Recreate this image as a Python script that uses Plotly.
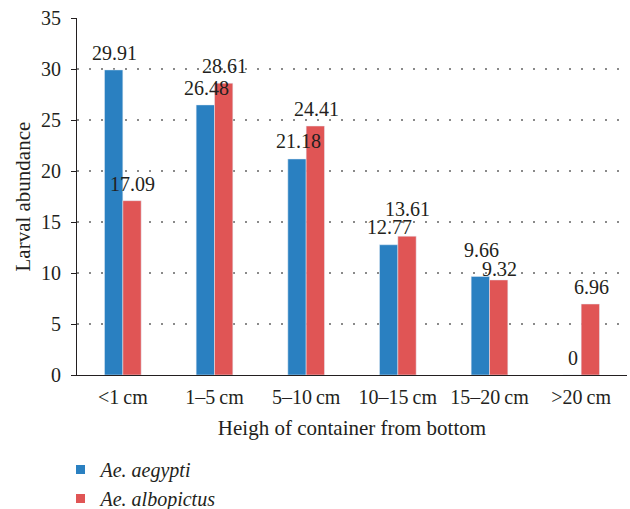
import plotly.graph_objects as go

# Larval abundance by container height, two Aedes species
categories = ["<1\u2009cm", "1\u20135\u2009cm", "5\u201310\u2009cm",
              "10\u201315\u2009cm", "15\u201320\u2009cm", ">20\u2009cm"]
aegypti = [29.91, 26.48, 21.18, 12.77, 9.66, 0]
albopictus = [17.09, 28.61, 24.41, 13.61, 9.32, 6.96]

BLUE = "#2a80c1"
RED = "#e05555"
INK = "#231f20"
FONT = "Liberation Serif, Times New Roman, serif"

fig = go.Figure()
fig.add_trace(go.Bar(x=categories, y=aegypti, marker_color=BLUE,
                     showlegend=False, name="Ae. aegypti"))
fig.add_trace(go.Bar(x=categories, y=albopictus, marker_color=RED,
                     showlegend=False, name="Ae. albopictus"))

# small square legend keys
for name, color in [("<i>Ae. aegypti</i>", BLUE), ("<i>Ae. albopictus</i>", RED)]:
    fig.add_trace(go.Scatter(x=[None], y=[None], mode="markers", name=name,
                             marker=dict(symbol="square", size=9, color=color)))

# value labels above the bars (pixel lift of the label centre over the bar top)
lift_aeg = [17, 17, 18, 18, 26, 17]
lift_alb = [17, 17, 17, 27, 11, 17]
for series, lifts, dx in [(aegypti, lift_aeg, -8), (albopictus, lift_alb, 10)]:
    for cat, val, lift in zip(categories, series, lifts):
        fig.add_annotation(x=cat, y=val, text=f"{val:g}", showarrow=False,
                           xshift=dx, yshift=lift, yanchor="middle",
                           font=dict(family=FONT, size=20, color=INK))

# y-axis title
fig.add_annotation(text="Larval abundance", xref="paper", yref="paper",
                   x=-55 / 550, y=0.5, xanchor="center", yanchor="middle",
                   textangle=-90, showarrow=False,
                   font=dict(family=FONT, size=21, color=INK))

fig.update_layout(
    width=630, height=509,
    margin=dict(l=77, r=3, t=17.5, b=134, autoexpand=False),
    paper_bgcolor="white", plot_bgcolor="white",
    bargap=0.6, bargroupgap=0,
    font=dict(family=FONT, size=20, color=INK),
    legend=dict(x=-0.03, xanchor="left", y=1 - 450 / 509, yref="container",
                yanchor="top", font=dict(family=FONT, size=20, color=INK),
                tracegroupgap=0, itemwidth=30),
)
fig.update_xaxes(
    showline=True, linecolor=INK, linewidth=1.2, ticks="",
    ticklabelstandoff=4,
    title=dict(text="Heigh of container from bottom", standoff=13,
               font=dict(family=FONT, size=21, color=INK)),
    tickfont=dict(family=FONT, size=20, color=INK),
)
fig.update_yaxes(
    range=[0, 35], dtick=5, showline=True, linecolor=INK, linewidth=1.2,
    ticks="outside", ticklen=5, tickcolor=INK, zeroline=False,
    showgrid=True, gridcolor="#8a8a8a", gridwidth=1.5, griddash="1.5px,10.5px",
    ticklabelstandoff=6,
    tickfont=dict(family=FONT, size=20, color=INK),
)

fig.write_html("out.html")
